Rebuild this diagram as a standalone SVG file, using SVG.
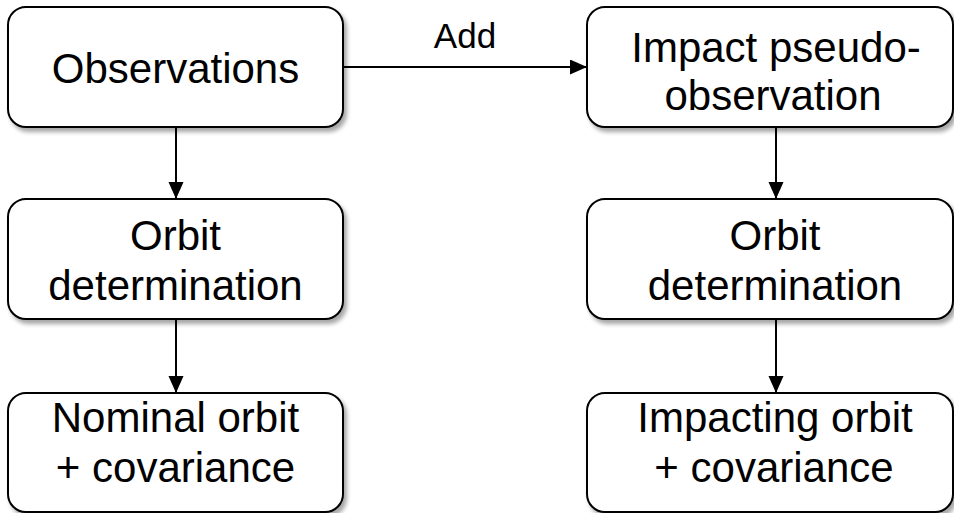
<svg xmlns="http://www.w3.org/2000/svg" width="954" height="513" viewBox="0 0 954 513">
<defs>
<filter id="sh" x="-10%" y="-10%" width="130%" height="140%">
<feDropShadow dx="3" dy="4" stdDeviation="2" flood-color="#000" flood-opacity="0.35"/>
</filter>
<marker id="ah" markerUnits="userSpaceOnUse" markerWidth="18" markerHeight="16" refX="17" refY="7.5" orient="auto">
<path d="M0,0 L17,7.5 L0,15 z" fill="#000"/>
</marker>
<style>
.box{fill:#fff;stroke:#000;stroke-width:2;filter:url(#sh)}
.t{font-family:"Liberation Sans",Arial,sans-serif;font-size:42px;fill:#000;text-anchor:middle}
.lbl{font-family:"Liberation Sans",Arial,sans-serif;font-size:35px;fill:#000;text-anchor:middle}
.c{stroke:#000;stroke-width:2;fill:none;marker-end:url(#ah)}
</style>
</defs>
<rect width="954" height="513" fill="#fff"/>
<g id="connectors">
<line class="c" x1="176" y1="127" x2="176" y2="199"/>
<line class="c" x1="176" y1="319" x2="176" y2="393"/>
<line class="c" x1="776" y1="127" x2="776" y2="199"/>
<line class="c" x1="776" y1="319" x2="776" y2="393"/>
<line class="c" x1="343" y1="67" x2="587" y2="67"/>
<text class="lbl" x="465" y="48">Add</text>
</g>
<g id="observations">
<rect class="box" x="8" y="7" width="335" height="120" rx="18"/>
<text class="t" x="175.5" y="83">Observations</text>
</g>
<g id="od-left">
<rect class="box" x="8" y="199" width="335" height="120" rx="18"/>
<text class="t" x="175.5" y="250">Orbit</text>
<text class="t" x="175.5" y="300">determination</text>
</g>
<g id="nominal">
<rect class="box" x="8" y="393" width="335" height="119" rx="18"/>
<text class="t" x="175.5" y="432">Nominal orbit</text>
<text class="t" x="175.5" y="482">+ covariance</text>
</g>
<g id="impact-pseudo">
<rect class="box" x="587" y="7" width="366" height="120" rx="18"/>
<text class="t" x="776" y="62">Impact pseudo-</text>
<text class="t" x="773" y="110">observation</text>
</g>
<g id="od-right">
<rect class="box" x="587" y="199" width="366" height="120" rx="18"/>
<text class="t" x="775" y="250">Orbit</text>
<text class="t" x="775" y="300">determination</text>
</g>
<g id="impacting">
<rect class="box" x="587" y="393" width="366" height="119" rx="18"/>
<text class="t" x="775" y="432">Impacting orbit</text>
<text class="t" x="774" y="482">+ covariance</text>
</g>
</svg>
